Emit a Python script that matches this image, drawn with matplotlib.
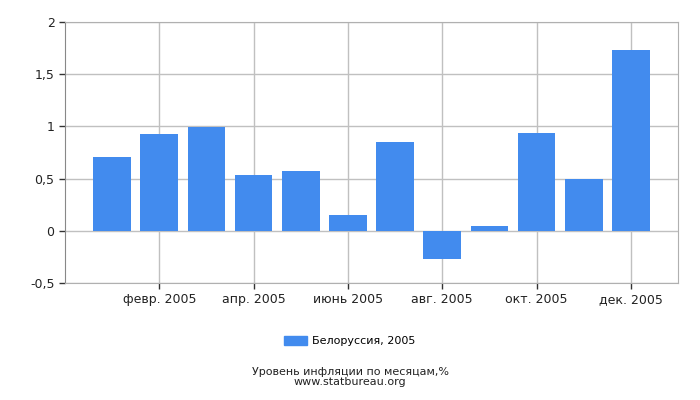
import matplotlib
matplotlib.use("Agg")
import matplotlib.pyplot as plt
from matplotlib.patches import Patch

# inflation by month, Belarus 2005
months = ["янв. 2005", "февр. 2005", "март 2005", "апр. 2005", "май 2005", "июнь 2005",
          "июль 2005", "авг. 2005", "сент. 2005", "окт. 2005", "нояб. 2005", "дек. 2005"]
values = [0.71, 0.93, 0.99, 0.53, 0.57, 0.15, 0.85, -0.27, 0.05, 0.94, 0.50, 1.73]
y_ticks = [-0.5, 0, 0.5, 1, 1.5, 2]
y_labels = ["-0,5", "0", "0,5", "1", "1,5", "2"]
series_name = "Белоруссия, 2005"
title = "Уровень инфляции по месяцам,%\nwww.statbureau.org"

bar_color = "#428bee"
grid_color = "#c0c0c0"

plt.rcParams["font.family"] = ["DejaVu Sans"]
fig = plt.figure(figsize=(7, 4), dpi=100)
ax = fig.add_axes([65 / 700, 1 - 283 / 400, 613 / 700, 261 / 400])

x = list(range(len(values)))
ax.bar(x, values, width=0.8, color=bar_color, zorder=3)

ax.set_xlim(-1, 12)
ax.set_ylim(-0.5, 2)
ax.set_yticks(y_ticks)
ax.set_yticklabels(y_labels)
ax.set_xticks(x[1::2])
ax.set_xticklabels(months[1::2])

ax.grid(True, color=grid_color, linewidth=1, zorder=0)
for side in ["top", "right", "bottom"]:
    ax.spines[side].set_color("#b0b0b0")
ax.spines["left"].set_color("#888888")
ax.tick_params(axis="both", labelsize=9, colors="#222222", length=4, width=1)
ax.tick_params(axis="both", color="#333333")

fig.legend(handles=[Patch(color=bar_color, label=series_name)],
           loc="center", bbox_to_anchor=(0.5, 1 - 341 / 400), frameon=False,
           fontsize=8, handlelength=2.0, handleheight=0.9, handletextpad=0.5)
fig.text(0.5, 1 - 377 / 400, title, ha="center", va="center",
         fontsize=8, color="#222222", linespacing=0.95)

fig.savefig("out.png", dpi=100)
